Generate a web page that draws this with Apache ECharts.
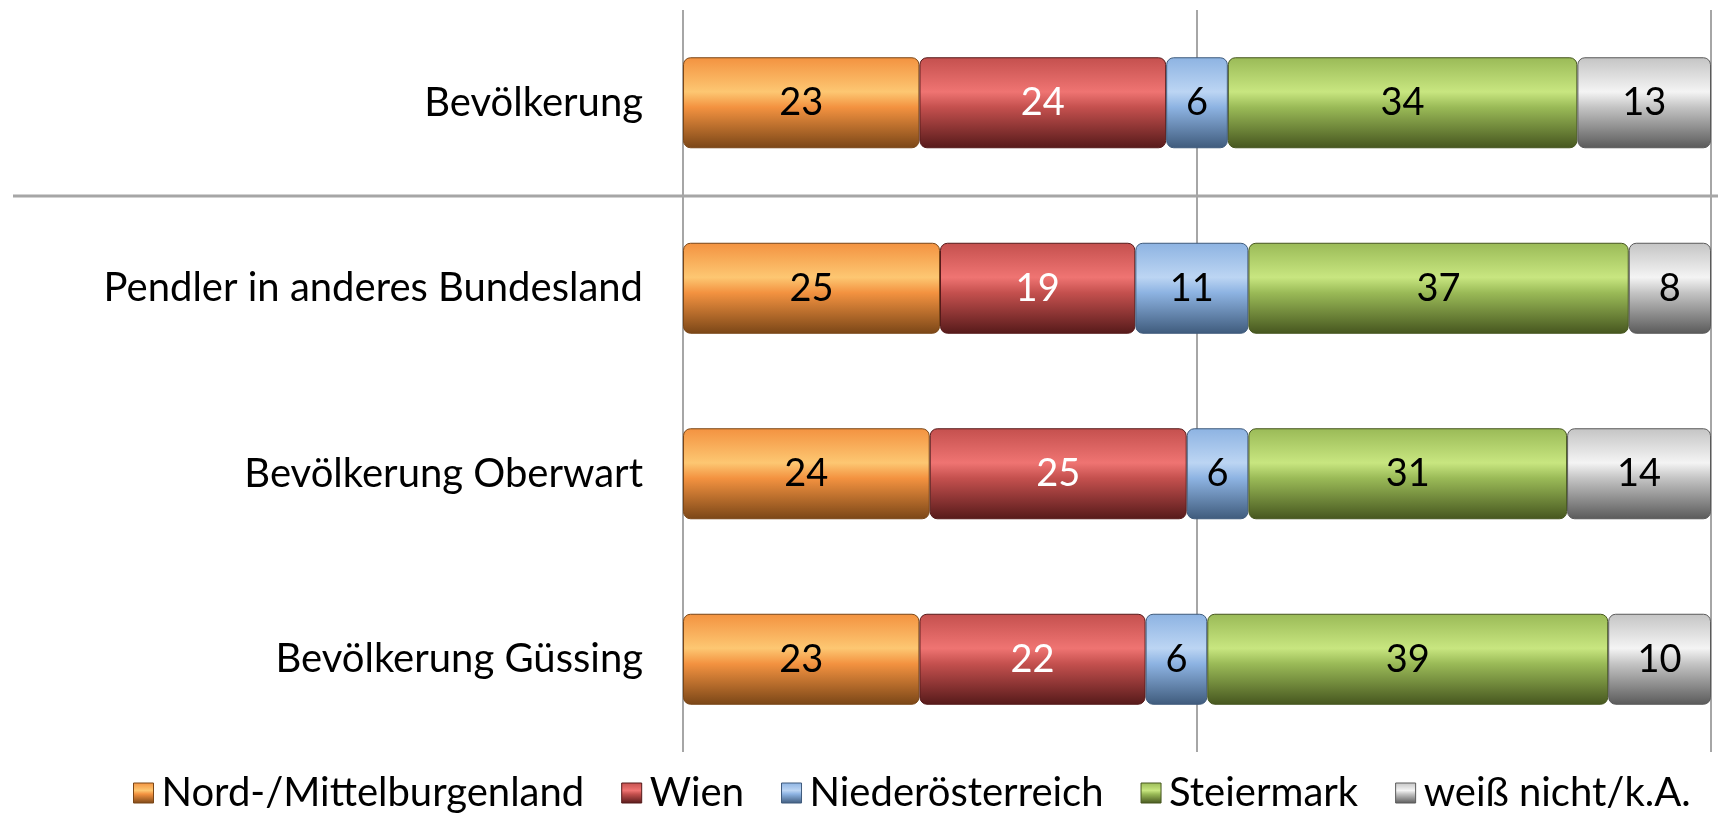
<!DOCTYPE html>
<html>
<head>
<meta charset="UTF-8">
<title>Bundesland</title>
<style>
  html, body { margin: 0; padding: 0; background: #fff; }
  #chart { width: 1718px; height: 814px; }
</style>
</head>
<body>
<div id="chart"></div>
<script src="https://cdn.jsdelivr.net/npm/echarts@6/dist/echarts.min.js"></script>
<script>
// categories, top to bottom
var categories = ['Bevölkerung', 'Pendler in anderes Bundesland', 'Bevölkerung Oberwart', 'Bevölkerung Güssing'];
var seriesNames = ['Nord-/Mittelburgenland', 'Wien', 'Niederösterreich', 'Steiermark', 'weiß nicht/k.A.'];

// values per series (percent), same order as categories
var nordMittel = [23, 25, 24, 23];
var wien = [24, 19, 25, 22];
var noe = [6, 11, 6, 6];
var steiermark = [34, 37, 31, 39];
var weissNicht = [13, 8, 14, 10];

var xTicks = [0, 50, 100];

// cylinder look: top, highlight, bottom
var palette = [
  ['#f39240', '#fdc772', '#7a4617'],
  ['#c4504e', '#ef7472', '#561a1a'],
  ['#8db3e2', '#bcd5f3', '#3f5b7c'],
  ['#9aba57', '#c8e680', '#46561f'],
  ['#c4c4c4', '#f4f4f4', '#5a5a5a']
];
var labelColors = ['#000', '#fff', '#000', '#000', '#000'];
var allValues = [nordMittel, wien, noe, steiermark, weissNicht];

function grad(c) {
  return new echarts.graphic.LinearGradient(0, 0, 0, 1, [
    { offset: 0, color: c[0] },
    { offset: 0.38, color: c[1] },
    { offset: 0.55, color: c[0] },
    { offset: 1, color: c[2] }
  ]);
}

var FONT = 'Lato';

var series = seriesNames.map(function (name, i) {
  return {
    name: name,
    type: 'bar',
    stack: 'total',
    barWidth: 91,
    data: allValues[i],
    itemStyle: {
      color: grad(palette[i]),
      borderColor: palette[i][2],
      borderWidth: 1,
      borderRadius: 7
    },
    label: {
      show: true,
      position: 'inside',
      color: labelColors[i],
      fontFamily: FONT,
      fontSize: 38
    }
  };
});

var chart = echarts.init(document.getElementById('chart'));
chart.setOption({
  animation: false,
  color: palette.map(function (c) { return c[0]; }),
  grid: { left: 683, right: 7, top: 10, bottom: 62 },
  legend: {
    top: 768,
    left: 128,
    itemWidth: 20,
    itemHeight: 20,
    itemGap: 37,
    icon: 'rect',
    textStyle: { fontFamily: FONT, fontSize: 40, color: '#000', padding: [0, 0, 0, 3] },
    data: seriesNames.map(function (n, i) {
      return { name: n, itemStyle: { color: grad(palette[i]), borderColor: palette[i][2], borderWidth: 1 } };
    })
  },
  xAxis: {
    type: 'value',
    min: xTicks[0],
    max: xTicks[xTicks.length - 1],
    interval: xTicks[1] - xTicks[0],
    axisLabel: { show: false },
    axisTick: { show: false },
    axisLine: { show: false },
    splitLine: { show: true, lineStyle: { color: '#a6a6a6', width: 2 } }
  },
  yAxis: {
    type: 'category',
    inverse: true,
    data: categories,
    axisTick: { show: false },
    axisLine: { show: false },
    axisLabel: { fontFamily: FONT, fontSize: 40, color: '#000', margin: 40 }
  },
  series: series
});

// separator between first row and the rest
var y0 = chart.convertToPixel({ yAxisIndex: 0 }, categories[0]);
var y1 = chart.convertToPixel({ yAxisIndex: 0 }, categories[1]);
var ySep = Math.round((y0 + y1) / 2);
chart.setOption({
  graphic: [{
    type: 'line',
    shape: { x1: 13, y1: ySep, x2: 1718, y2: ySep },
    style: { stroke: '#a6a6a6', lineWidth: 3 },
    z: 1
  }]
});
</script>
</body>
</html>
